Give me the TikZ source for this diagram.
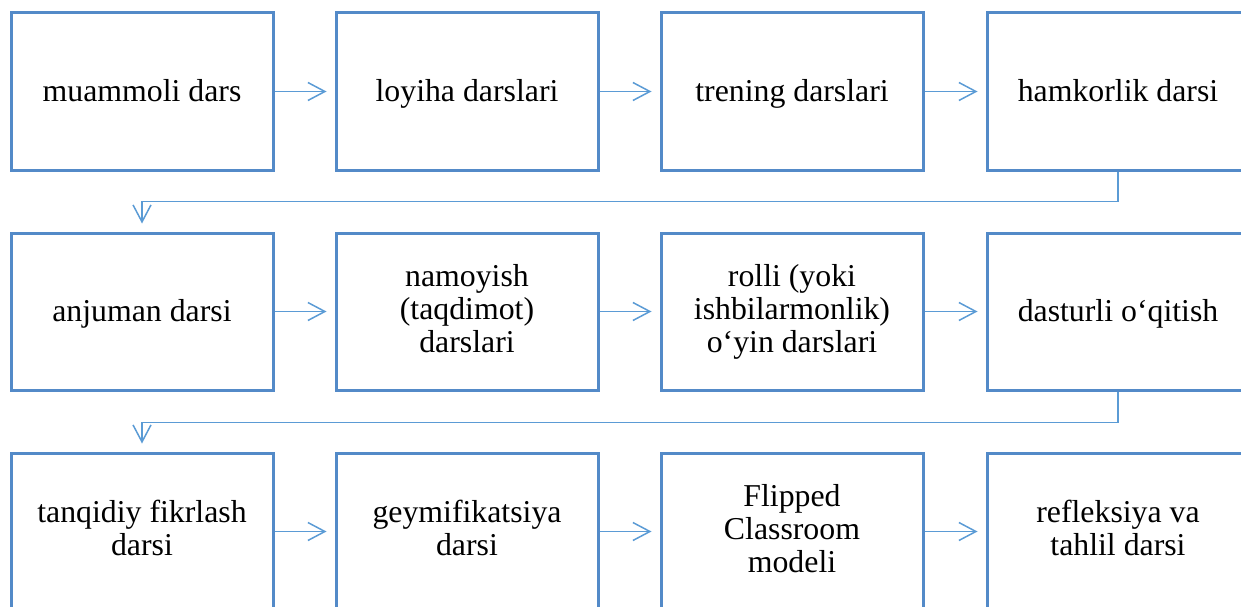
\documentclass[tikz,border=0pt]{standalone}
\usepackage{fontspec}
\setmainfont{Liberation Serif}
\usetikzlibrary{arrows.meta}
\definecolor{boxblue}{RGB}{83,138,200}
\definecolor{linkblue}{RGB}{91,155,213}
\newcommand\bstrut{\rule[-7pt]{0pt}{34pt}}
\begin{document}
\begin{tikzpicture}[x=1pt,y=-1pt,
 box/.style={draw=boxblue, line width=3pt, minimum width=262pt, minimum height=157pt,
   align=center, inner sep=0pt, font=\fontsize{31.8}{33}\selectfont, text=black,
   execute at begin node=\bstrut, execute at end node=\bstrut},
 link/.style={draw=linkblue, line width=1.5pt,
   -{Straight Barb[length=17pt,width=18pt]}, shorten >=8pt}]
\useasboundingbox (0,0) rectangle (1241,607);
% row 1
\node[box] (b1) at (142,91.5) {muammoli dars};
\node[box] (b2) at (467,91.5) {loyiha darslari};
\node[box] (b3) at (792,91.5) {trening darslari};
\node[box] (b4) at (1118,91.5) {hamkorlik darsi};
% row 2
\node[box] (b5) at (142,311.5) {anjuman darsi};
\node[box] (b6) at (467,311.5) {namoyish\\(taqdimot)\\darslari};
\node[box] (b7) at (792,311.5) {rolli (yoki\\ishbilarmonlik)\\o‘yin darslari};
\node[box] (b8) at (1118,311.5) {dasturli o‘qitish};
% row 3
\node[box] (b9) at (142,531.5) {tanqidiy fikrlash\\darsi};
\node[box] (b10) at (467,531.5) {geymifikatsiya\\darsi};
\node[box] (b11) at (792,531.5) {Flipped\\Classroom\\modeli};
\node[box] (b12) at (1118,531.5) {refleksiya va\\tahlil darsi};
% connectors
\draw[link] (b1) -- (b2);
\draw[link] (b2) -- (b3);
\draw[link] (b3) -- (b4);
\draw[link] (b4.south) -- ++(0,30) -| (b5.north);
\draw[link] (b5) -- (b6);
\draw[link] (b6) -- (b7);
\draw[link] (b7) -- (b8);
\draw[link] (b8.south) -- ++(0,31) -| (b9.north);
\draw[link] (b9) -- (b10);
\draw[link] (b10) -- (b11);
\draw[link] (b11) -- (b12);
\end{tikzpicture}
\end{document}
